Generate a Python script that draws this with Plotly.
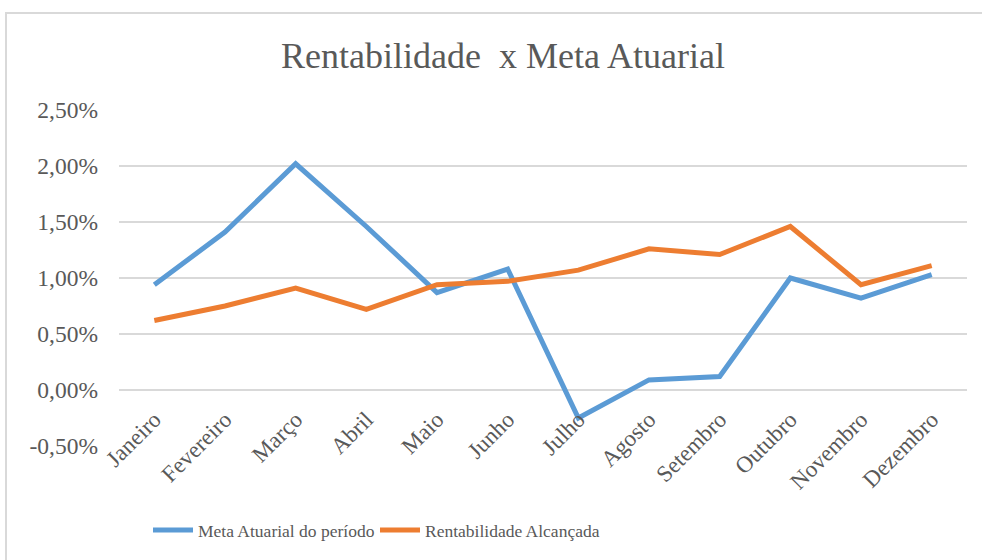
import plotly.graph_objects as go

meses = ["Janeiro", "Fevereiro", "Março", "Abril", "Maio", "Junho", "Julho",
         "Agosto", "Setembro", "Outubro", "Novembro", "Dezembro"]
meta_atuarial = [0.94, 1.41, 2.02, 1.46, 0.87, 1.08, -0.25, 0.09, 0.12, 1.00, 0.82, 1.03]
rentabilidade = [0.62, 0.75, 0.91, 0.72, 0.94, 0.97, 1.07, 1.26, 1.21, 1.46, 0.94, 1.11]
y_ticks = [-0.5, 0.0, 0.5, 1.0, 1.5, 2.0, 2.5]
y_ticktext = ["-0,50%", "0,00%", "0,50%", "1,00%", "1,50%", "2,00%", "2,50%"]

FONT = "Liberation Serif"
GRAY = "#595959"

W, H = 982, 560
L, R, T, B = 119, 15, 110, 114
pw, ph = W - L - R, H - T - B

def px_to_paper_x(px):
    return (px - L) / pw

def px_to_paper_y(py):
    return (H - B - py) / ph

fig = go.Figure()
fig.add_trace(go.Scatter(x=meses, y=meta_atuarial, mode="lines",
                         name="Meta Atuarial do período",
                         line=dict(color="#5B9BD5", width=5)))
fig.add_trace(go.Scatter(x=meses, y=rentabilidade, mode="lines",
                         name="Rentabilidade Alcançada",
                         line=dict(color="#ED7D31", width=5)))

zero_pos = (0 - (-0.5)) / 3.0

fig.update_layout(
    width=W, height=H,
    margin=dict(l=L, r=R, t=T, b=B),
    paper_bgcolor="white", plot_bgcolor="white",
    font=dict(family=FONT, color=GRAY, size=21),
    title=dict(text="Rentabilidade  x Meta Atuarial", x=503 / W, xref="container",
               xanchor="center", y=1 - 55 / H, yref="container", yanchor="middle",
               font=dict(family=FONT, size=36, color=GRAY)),
    showlegend=True,
    legend=dict(orientation="h", x=px_to_paper_x(148), xanchor="left",
                y=px_to_paper_y(530), yanchor="middle",
                font=dict(family=FONT, size=17.5, color=GRAY),
                itemwidth=40, tracegroupgap=0,
                entrywidth=172, entrywidthmode="pixels"),
    xaxis=dict(type="category", range=[-0.5, 11.5], showgrid=False,
               showline=False, zeroline=False, tickangle=-45,
               anchor="free", position=zero_pos,
               ticks="outside", ticklen=6, tickcolor="rgba(0,0,0,0)",
               tickfont=dict(family=FONT, size=23, color=GRAY)),
    yaxis=dict(range=[-0.5, 2.5], tickvals=y_ticks, ticktext=y_ticktext,
               showgrid=True, gridcolor="#d9d9d9", gridwidth=1.5,
               zeroline=False, showline=False, ticklabelstandoff=20,
               tickfont=dict(family=FONT, size=23.5, color=GRAY)),
    shapes=[
        dict(type="rect", xref="paper", yref="paper",
             x0=px_to_paper_x(6), x1=px_to_paper_x(1000),
             y0=px_to_paper_y(600), y1=px_to_paper_y(13),
             line=dict(color="#d9d9d9", width=2), layer="below"),
    ],
)

fig.write_html("out.html", config={"displayModeBar": False},
               post_script="document.body.style.margin='0';")
